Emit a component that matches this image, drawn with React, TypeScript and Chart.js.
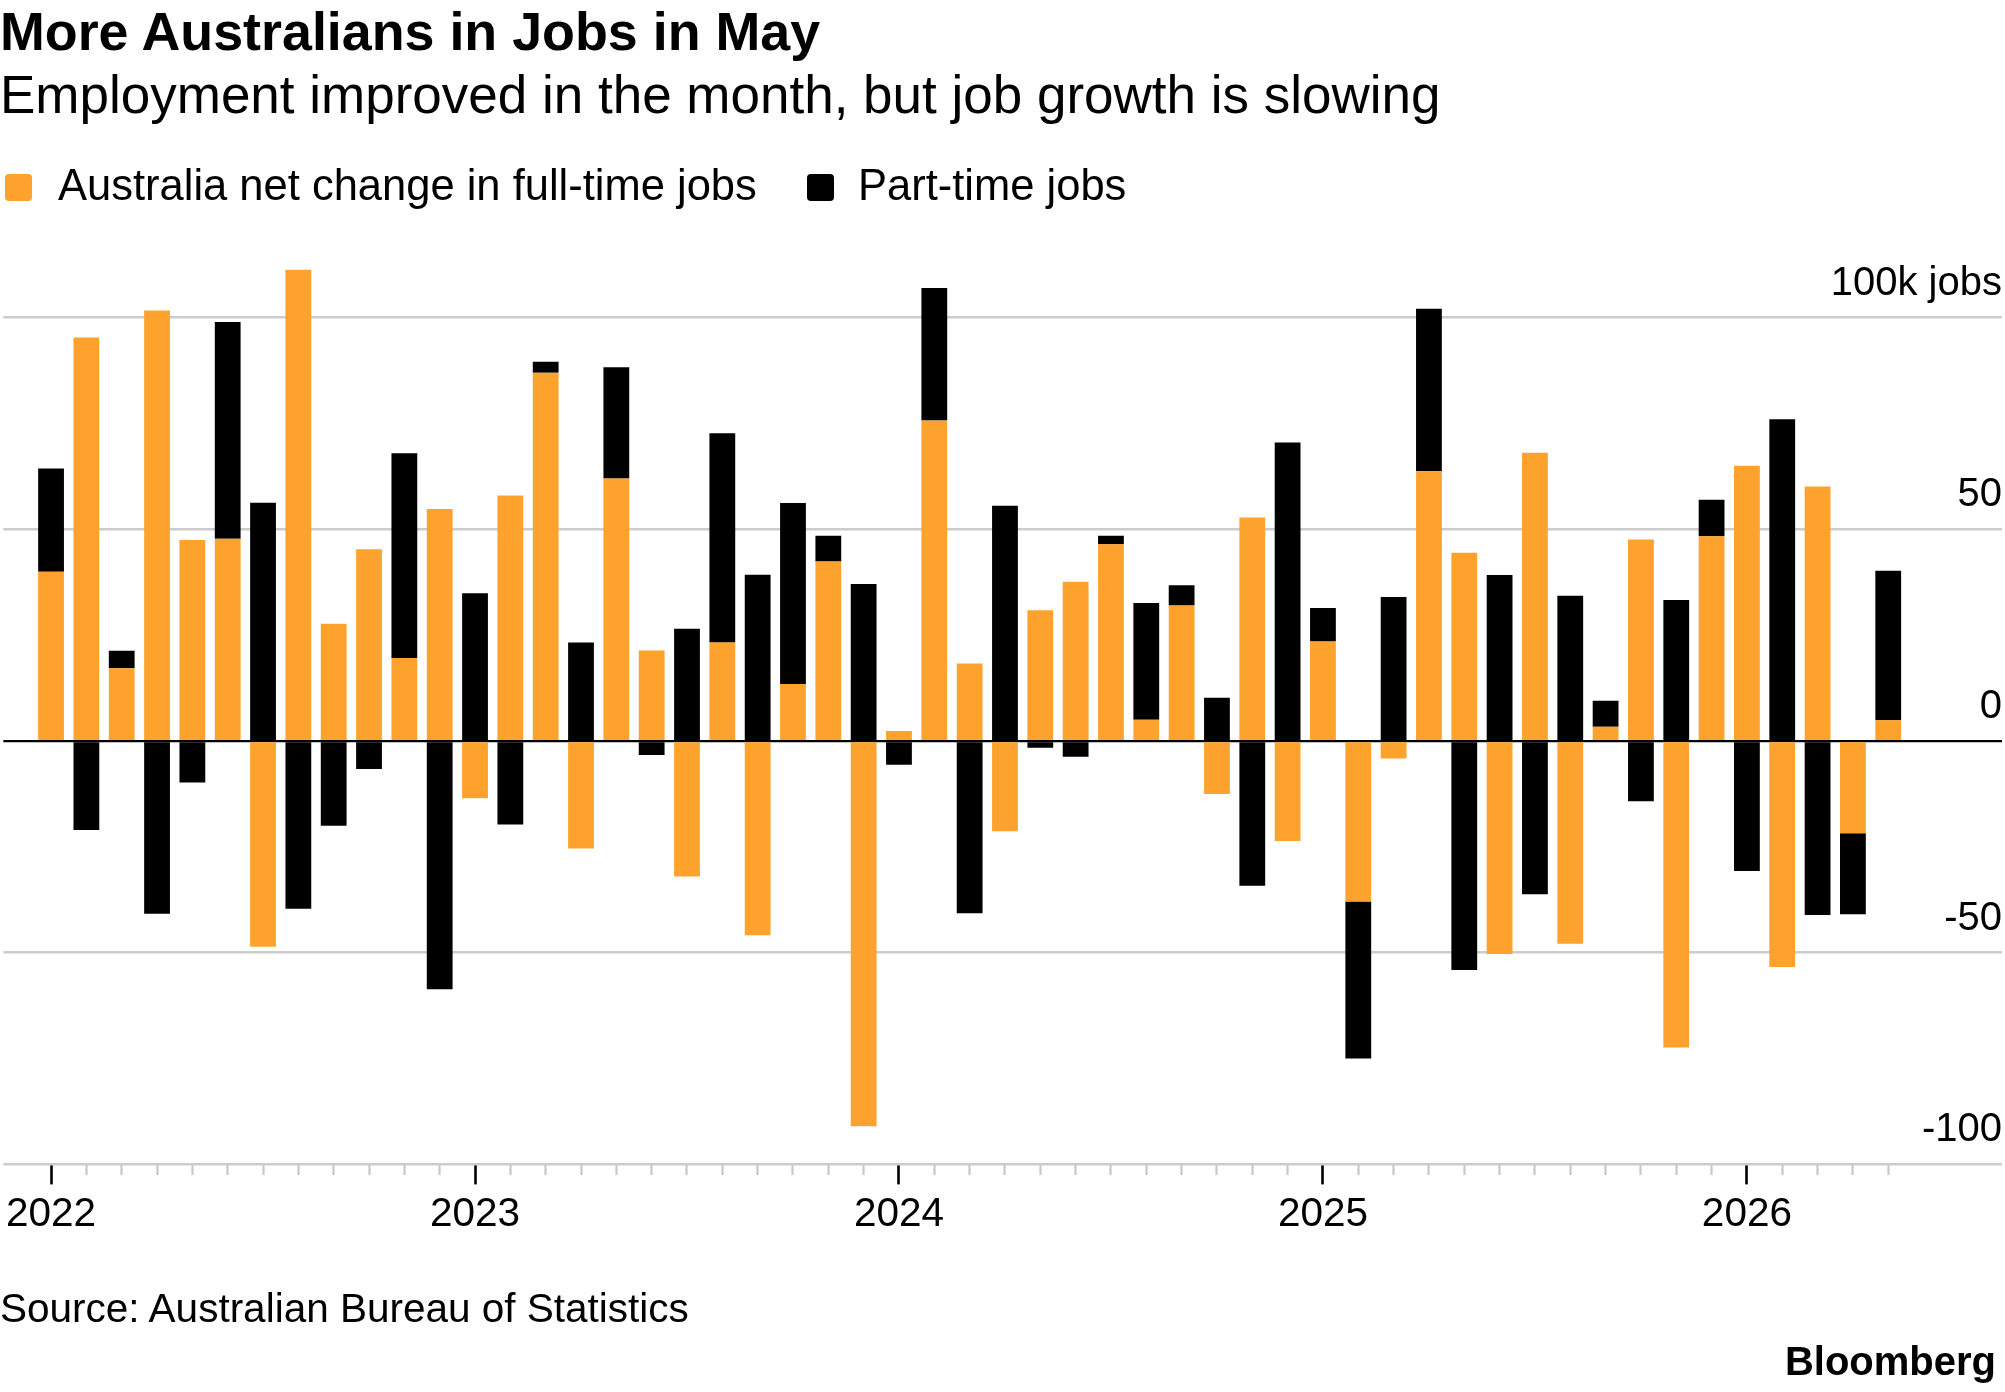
import React, { useEffect, useRef } from 'react';
import { Chart, registerables } from 'chart.js';

Chart.register(...registerables);

// ---------------- data ----------------
const months = [
  'Jan 2022', 'Feb 2022', 'Mar 2022', 'Apr 2022', 'May 2022', 'Jun 2022', 'Jul 2022', 'Aug 2022', 'Sep 2022', 'Oct 2022', 'Nov 2022', 'Dec 2022',
  'Jan 2023', 'Feb 2023', 'Mar 2023', 'Apr 2023', 'May 2023', 'Jun 2023', 'Jul 2023', 'Aug 2023', 'Sep 2023', 'Oct 2023', 'Nov 2023', 'Dec 2023',
  'Jan 2024', 'Feb 2024', 'Mar 2024', 'Apr 2024', 'May 2024', 'Jun 2024', 'Jul 2024', 'Aug 2024', 'Sep 2024', 'Oct 2024', 'Nov 2024', 'Dec 2024',
  'Jan 2025', 'Feb 2025', 'Mar 2025', 'Apr 2025', 'May 2025', 'Jun 2025', 'Jul 2025', 'Aug 2025', 'Sep 2025', 'Oct 2025', 'Nov 2025', 'Dec 2025',
  'Jan 2026', 'Feb 2026', 'Mar 2026', 'Apr 2026', 'May 2026',
];

// thousands of jobs
const fullTimeJobs = [
  40.0, 95.3, 17.2, 101.7, 47.5, 47.8, -48.6, 111.3, 27.7, 45.3, 19.6, 54.8,
  -13.5, 58.0, 87.0, -25.4, 62.0, 21.4, -32.0, 23.3, -45.9, 13.5, 42.4, -91.0,
  2.4, 75.7, 18.3, -21.3, 30.9, 37.6, 46.5, 5.0, 32.0, -12.5, 52.8, -23.6,
  23.5, -37.9, -4.1, 63.7, 44.5, -50.3, 68.1, -47.9, 3.4, 47.6, -72.4, 48.4,
  65.0, -53.4, 60.1, -21.8, 4.9,
];

const partTimeJobs = [
  24.4, -21.0, 4.1, -40.8, -9.8, 51.2, 56.3, -39.6, -20.0, -6.6, 48.4, -58.6,
  34.9, -19.7, 2.6, 23.3, 26.3, -3.3, 26.5, 49.4, 39.3, 42.7, 6.1, 37.1,
  -5.6, 31.3, -40.7, 55.6, -1.6, -3.7, 2.0, 27.6, 4.8, 10.2, -34.2, 70.5,
  7.9, -37.1, 34.0, 38.4, -54.1, 39.2, -36.2, 34.3, 6.1, -14.2, 33.3, 8.6,
  -30.7, 76.0, -41.1, -19.1, 35.3,
];

const seriesNames = ['Australia net change in full-time jobs', 'Part-time jobs'];
const seriesColors = ['#fca22d', '#000000'];

const yTickValues = [-100, -50, 0, 50, 100];
const yTickLabels = ['-100', '-50', '0', '50', '100k jobs'];

const titleText = 'More Australians in Jobs in May';
const subtitleText = 'Employment improved in the month, but job growth is slowing';
const sourceText = 'Source: Australian Bureau of Statistics';
const brandText = 'Bloomberg';

// ---------------- styling ----------------
const FONT = '"Liberation Sans", Arial, Helvetica, sans-serif';
const W = 2005;
const H = 1392;

const isMajor = (v: number) => {
  const m = months[v];
  return !!m && m.startsWith('Jan');
};

export default function App() {
  const canvasRef = useRef<HTMLCanvasElement>(null);

  useEffect(() => {
    const canvas = canvasRef.current;
    if (!canvas) return;
    const chart = new Chart(canvas, {
      type: 'bar',
      data: {
        datasets: [
          {
            label: seriesNames[0],
            data: fullTimeJobs.map((v, i) => ({ x: i, y: v })),
            backgroundColor: seriesColors[0],
            borderWidth: 0,
          },
          {
            label: seriesNames[1],
            data: partTimeJobs.map((v, i) => ({ x: i, y: v })),
            backgroundColor: seriesColors[1],
            borderWidth: 0,
          },
        ],
      } as any,
      options: {
        animation: false,
        responsive: false,
        devicePixelRatio: 1,
        layout: { padding: { left: 0, right: 3, top: 233, bottom: 147 } },
        datasets: { bar: { categoryPercentage: 1, barPercentage: 0.73 } } as any,
        plugins: {
          legend: { display: false },
          tooltip: { enabled: false },
          title: { display: false },
        },
        scales: {
          x: {
            type: 'linear',
            stacked: true,
            offset: false,
            min: -1.35,
            max: 55.22,
            afterBuildTicks: (scale: any) => {
              scale.ticks = months.map((_, i) => ({ value: i }));
            },
            grid: {
              display: true,
              offset: false,
              drawOnChartArea: false,
              drawTicks: true,
              tickLength: 20,
              tickColor: (ctx: any) => (ctx.tick && isMajor(ctx.tick.value) ? '#000000' : '#c8c8c8'),
              tickWidth: (ctx: any) => (ctx.tick && isMajor(ctx.tick.value) ? 2.6 : 2.2),
              tickBorderDash: (ctx: any) => (ctx.tick && isMajor(ctx.tick.value) ? [] : [11, 200]),
            },
            border: { display: false },
            ticks: {
              autoSkip: false,
              maxRotation: 0,
              minRotation: 0,
              padding: 6,
              color: '#000000',
              font: { family: FONT, size: 40.5 },
              callback: (value: any) => {
                const m = months[value as number];
                return m && m.startsWith('Jan') ? m.slice(4) : '';
              },
            },
          } as any,
          y: {
            type: 'linear',
            stacked: true,
            position: 'right',
            min: -100,
            max: 120,
            afterBuildTicks: (scale: any) => {
              scale.ticks = yTickValues.map((v) => ({ value: v }));
            },
            grid: {
              drawTicks: false,
              color: (ctx: any) => (ctx.tick && ctx.tick.value === 0 ? '#000000' : '#cccccc'),
              lineWidth: (ctx: any) => (ctx.tick && ctx.tick.value === 0 ? 2.2 : 2.6),
            },
            border: { display: false },
            ticks: {
              mirror: true,
              padding: 0,
              labelOffset: -34,
              color: '#000000',
              font: { family: FONT, size: 40 },
              callback: (value: any) => {
                const idx = yTickValues.indexOf(value as number);
                return idx >= 0 ? yTickLabels[idx] : '';
              },
            },
          } as any,
        },
      },
    });
    return () => chart.destroy();
  }, []);

  const text = (extra: React.CSSProperties): React.CSSProperties => ({
    position: 'absolute',
    whiteSpace: 'nowrap',
    fontFamily: FONT,
    color: '#000',
    margin: 0,
    ...extra,
  });

  return (
    <div
      style={{
        position: 'fixed',
        left: 0,
        top: 0,
        width: W,
        height: H,
        background: '#ffffff',
        overflow: 'hidden',
      }}
    >
      <canvas
        ref={canvasRef}
        width={W}
        height={H}
        style={{ position: 'absolute', left: 0, top: 0, width: W, height: H }}
      />
      <div style={text({ left: 0, top: 5, fontSize: 53.8, lineHeight: '53.8px', fontWeight: 700 })}>{titleText}</div>
      <div style={text({ left: 0, top: 68, fontSize: 53, lineHeight: '53px' })}>{subtitleText}</div>

      <div style={{ position: 'absolute', left: 5, top: 174, width: 27, height: 27, borderRadius: 4, background: seriesColors[0] }} />
      <div style={text({ left: 58, top: 164, fontSize: 43.5, lineHeight: '43.5px' })}>{seriesNames[0]}</div>
      <div style={{ position: 'absolute', left: 807, top: 174, width: 27, height: 27, borderRadius: 4, background: seriesColors[1] }} />
      <div style={text({ left: 858, top: 164, fontSize: 43.5, lineHeight: '43.5px' })}>{seriesNames[1]}</div>

      <div style={text({ left: 0, top: 1288, fontSize: 40.5, lineHeight: '40.5px' })}>{sourceText}</div>
      <div style={text({ right: 9, top: 1341, fontSize: 40, lineHeight: '40px', fontWeight: 700 })}>{brandText}</div>
    </div>
  );
}
